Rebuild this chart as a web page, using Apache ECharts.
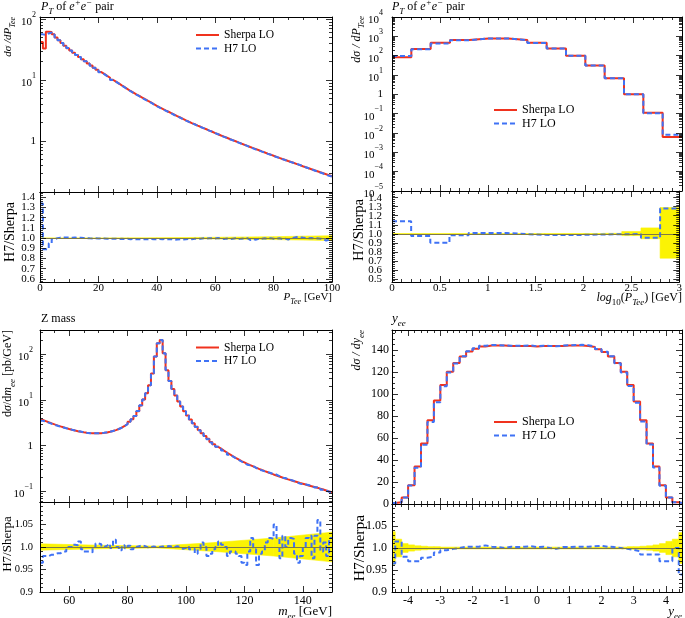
<!DOCTYPE html>
<html><head><meta charset="utf-8">
<script src="https://cdn.jsdelivr.net/npm/echarts@6/dist/echarts.min.js"></script>
<style>html,body{margin:0;padding:0;background:#fff}#c{width:685px;height:618px}</style>
</head><body><div id="c"></div>
<script>
const FONT = "'Liberation Serif','DejaVu Serif',serif";
const RED = '#f0321e', BLUE = '#3f72f5', YEL = '#fbf304', REF = '#7f7a45';

// ---------- P_T of e+e- pair (linear, 1 GeV bins) ----------
const ptEdges = []; for (let i = 0; i <= 100; i++) ptEdges.push(i);
const ptSherpa = [42,33,62,61,56,50,45,40.5,36.5,33.3,
30.5,28.1,25.8,23.8,21.9,20.3,18.7,17.3,15.9,14.7,
13.5,12.6,11.7,10.9,10.1,9.44,8.79,8.18,7.62,7.1,
6.61,6.21,5.83,5.48,5.15,4.84,4.55,4.28,4.02,3.78,
3.55,3.36,3.18,3.02,2.86,2.71,2.56,2.43,2.3,2.18,
2.07,1.97,1.88,1.79,1.71,1.63,1.56,1.48,1.42,1.35,
1.29,1.23,1.18,1.13,1.08,1.035,0.991,0.948,0.908,0.869,
0.832,0.798,0.766,0.735,0.705,0.676,0.649,0.622,0.597,0.573,
0.55,0.528,0.508,0.489,0.47,0.452,0.435,0.418,0.402,0.386,
0.372,0.358,0.344,0.331,0.319,0.307,0.296,0.285,0.274,0.264];
const ptH7 = [56,55,58,60,55.5,50,45,40.5,36.6,33.4,
30.6,28.2,25.8,23.8,21.9,20.3,18.7,17.2,15.9,14.6,
13.4,12.5,11.6,10.8,10.0,9.39,8.73,8.13,7.56,7.04,
6.55,6.15,5.77,5.43,5.09,4.79,4.51,4.24,3.98,3.74,
3.52,3.33,3.15,2.99,2.83,2.67,2.53,2.41,2.27,2.16,
2.06,1.95,1.87,1.78,1.7,1.63,1.55,1.48,1.42,1.35,
1.29,1.225,1.171,1.125,1.069,1.029,0.989,0.939,0.903,0.866,
0.832,0.784,0.758,0.724,0.701,0.671,0.648,0.616,0.597,0.57,
0.548,0.527,0.504,0.487,0.463,0.451,0.437,0.422,0.405,0.388,
0.372,0.357,0.345,0.329,0.318,0.305,0.293,0.278,0.27,0.261];
const ptRatio = [1.34,0.89,0.89,0.95,0.99,1.0,1.005,1.006,1.005,1.006,
1.004,1.005,1.003,1.004,1.002,1.0,0.998,0.997,0.998,0.996,
0.995,0.997,0.994,0.996,0.993,0.995,0.992,0.994,0.991,0.993,
0.99,0.992,0.989,0.991,0.988,0.99,0.989,0.992,0.988,0.99,
0.992,0.989,0.991,0.988,0.99,0.984,0.986,0.99,0.987,0.99,
0.993,0.99,0.994,0.992,0.995,0.998,0.996,0.999,1.0,0.997,
1.002,0.995,0.992,0.996,0.99,0.994,0.998,0.99,0.995,0.997,
1.0,0.982,0.99,0.985,0.995,0.993,0.998,0.99,1.0,0.994,
0.996,0.998,0.992,0.995,0.985,0.998,1.005,1.01,1.008,1.005,
1.0,0.998,1.002,0.995,0.998,0.995,0.99,0.975,0.985,0.99];
const ptBandX = [0,20,40,60,80,100];
const ptBandLo = [0.998,0.998,0.996,0.992,0.986,0.976];
const ptBandHi = [1.002,1.002,1.004,1.008,1.014,1.024];

// ---------- log10(P_T) ----------
const lptEdges = [0,0.2,0.4,0.6,0.8,1.0,1.2,1.4,1.6,1.8,2.0,2.2,2.4,2.6,2.8,3.0];
const lptSherpa = [82,220,470,640,780,780,640,460,235,100,31,6.8,1.0,0.11,0.0063];
const lptH7 = [95,215,420,630,775,775,630,450,232,99,31,6.8,1.0,0.105,0.0081];
const lptRatio = [1.14,0.975,0.9,0.985,1.008,1.008,0.997,0.988,0.987,0.988,0.992,0.995,0.997,0.955,1.28];
const lptBandLo = [0.998,0.998,0.998,0.998,0.998,0.998,0.998,0.998,0.998,0.998,0.997,0.995,0.98,0.945,0.73];
const lptBandHi = [1.002,1.002,1.002,1.002,1.002,1.002,1.002,1.002,1.002,1.002,1.003,1.005,1.025,1.065,1.29];

// ---------- Z mass ----------
const mEdges = []; for (let i = 50; i <= 150; i++) mEdges.push(i);
const mSherpa = [3.65,3.45,3.25,3.08,2.92,2.78,2.65,2.53,2.42,2.32,
2.23,2.15,2.08,2.02,1.97,1.93,1.9,1.88,1.87,1.87,
1.88,1.91,1.95,2.01,2.09,2.19,2.32,2.48,2.7,2.98,
3.33,3.8,4.45,5.7,7.6,10.2,14,21,38,90,
174,206,105,45,26,17.5,12.5,9.3,7.2,5.7,
4.6,3.75,3.1,2.6,2.2,1.88,1.62,1.41,1.2,1.07,
0.95,0.86,0.78,0.71,0.65,0.59,0.54,0.5,0.46,0.43,
0.4,0.375,0.352,0.33,0.31,0.293,0.277,0.262,0.248,0.235,
0.223,0.212,0.202,0.192,0.183,0.175,0.167,0.16,0.153,0.147,
0.141,0.135,0.13,0.125,0.12,0.115,0.11,0.105,0.1,0.095];
const mH7 = [3.52,3.39,3.19,3.03,2.88,2.74,2.62,2.51,2.4,2.32,
2.23,2.16,2.08,2.04,1.96,1.91,1.88,1.86,1.87,1.88,
1.89,1.91,1.96,2.02,2.09,2.22,2.32,2.47,2.71,2.97,
3.34,3.78,4.45,5.71,7.63,10.22,13.99,21.0,38.04,90.0,
174,206.2,105,45.1,26.03,17.48,12.52,9.3,7.17,5.69,
4.61,3.73,3.09,2.56,2.19,1.9,1.62,1.38,1.18,1.06,
0.95,0.87,0.784,0.71,0.637,0.584,0.535,0.492,0.451,0.415,
0.384,0.371,0.359,0.328,0.298,0.289,0.274,0.265,0.253,0.239,
0.234,0.216,0.197,0.197,0.183,0.178,0.17,0.158,0.148,0.144,
0.141,0.138,0.133,0.122,0.123,0.122,0.109,0.106,0.098,0.097];
const mRatio = [0.965,0.98,0.98,0.983,0.983,0.986,0.986,0.99,0.99,1.0,
1.0,1.005,1.004,1.012,0.995,0.99,0.99,0.988,1.0,1.008,
1.006,1.0,1.003,1.007,0.998,1.016,1.0,0.993,1.004,0.997,
1.003,0.995,1.0,1.002,1.004,1.002,0.999,1.0,1.001,1.0,
1.0,1.001,1.0,1.002,1.001,0.999,1.002,1.0,0.996,0.998,
1.002,0.995,0.996,0.985,0.995,1.01,1.0,0.98,0.985,0.995,
1.0,1.012,1.005,1.0,0.98,0.99,0.99,0.985,0.98,0.965,
0.96,0.99,1.02,0.995,0.96,0.985,0.99,1.01,1.02,1.018,
1.05,1.02,0.975,1.025,1.0,1.02,1.018,0.985,0.965,0.98,
1.0,1.02,1.025,0.975,1.025,1.06,0.99,1.01,0.98,1.02];
const mBandX = [50,70,90,110,130,150];
const mBandLo = [0.993,0.996,0.998,0.99,0.98,0.967];
const mBandHi = [1.007,1.004,1.002,1.01,1.02,1.033];

// ---------- y_ee ----------
const yEdges = [-4.5,-4.4,-4.2,-4.0,-3.8,-3.6,-3.4,-3.2,-3.0,-2.8,-2.6,-2.4,-2.2,-2.0,-1.8,-1.6,-1.4,-1.2,-1.0,-0.8,-0.6,-0.4,-0.2,0,0.2,0.4,0.6,0.8,1.0,1.2,1.4,1.6,1.8,2.0,2.2,2.4,2.6,2.8,3.0,3.2,3.4,3.6,3.8,4.0,4.2,4.4,4.5];
const ySherpa = [1.0,1.5,6,17,34,55,76,94,108,120,128,134,138.5,141,143,144,144,144,143.5,143.5,143.5,143.5,143,143.5,143.5,143.5,143.5,144,144,144,143.5,142.5,140.5,138,134,128,120,108,93,76,55,34,17,6,1.5,1.0];
const yH7 = [0.97,1.52,5.9,16.7,33,53.8,74.4,92.4,107,119.4,127.6,134.2,138.7,141.4,143.6,144.4,144.3,144,143.7,143.8,143.8,143.9,143.3,143.8,143.5,143.2,143.8,144.2,144.4,144.5,144.1,143,140.8,138.2,134.1,127.8,119.5,107.1,92,75,54,33.2,16.5,5.82,1.5,0.94];
const yRatio = [0.965,1.015,0.98,0.97,0.97,0.978,0.98,0.99,0.995,0.998,1.0,1.003,1.003,1.003,1.006,1.003,1.002,1.0,1.003,1.002,1.003,1.004,1.002,1.003,1.0,0.998,1.002,1.002,1.003,1.003,1.003,1.004,1.005,1.003,1.002,1.0,0.998,0.996,0.993,0.985,0.985,0.985,0.97,0.97,1.0,0.94];
const yBandLo = [0.963,0.98,0.99,0.993,0.995,0.996,0.997,0.997,0.998,0.998,0.998,0.998,0.998,0.998,0.998,0.998,0.998,0.998,0.998,0.998,0.998,0.998,0.998,0.998,0.998,0.998,0.998,0.998,0.998,0.998,0.998,0.998,0.998,0.998,0.998,0.998,0.998,0.997,0.997,0.996,0.995,0.993,0.99,0.985,0.98,0.965];
const yBandHi = [1.037,1.02,1.01,1.007,1.005,1.004,1.003,1.003,1.002,1.002,1.002,1.002,1.002,1.002,1.002,1.002,1.002,1.002,1.002,1.002,1.002,1.002,1.002,1.002,1.002,1.002,1.002,1.002,1.002,1.002,1.002,1.002,1.002,1.002,1.002,1.002,1.002,1.003,1.003,1.004,1.005,1.007,1.01,1.015,1.02,1.035];

// ---------- helpers ----------
function steps(edges, vals) { const d = vals.map((v, i) => [edges[i], v]); d.push([edges[vals.length], vals[vals.length - 1]]); return d; }
function rects(edges, lo, hi) { return lo.map((l, i) => [edges[i], edges[i + 1], l, hi[i]]); }
function wedge(xs, lo, hi) { const o = []; for (let i = 0; i < xs.length - 1; i++) o.push([xs[i], xs[i + 1], lo[i], hi[i], lo[i + 1], hi[i + 1]]); return o; }
function bandRect(params, api) {
  const a = api.coord([api.value(0), api.value(3)]), b = api.coord([api.value(1), api.value(2)]);
  return { type: 'rect', shape: { x: a[0], y: a[1], width: b[0] - a[0], height: b[1] - a[1] }, style: { fill: YEL, stroke: YEL, lineWidth: 0.6 } };
}
function bandPoly(params, api) {
  const pts = [api.coord([api.value(0), api.value(2)]), api.coord([api.value(0), api.value(3)]), api.coord([api.value(1), api.value(5)]), api.coord([api.value(1), api.value(4)])];
  return { type: 'polygon', shape: { points: pts }, style: { fill: YEL, stroke: YEL, lineWidth: 0.6 } };
}
const mult = (v, s) => Math.abs(v / s - Math.round(v / s)) < 1e-6;
const logFmt = v => { const l = Math.log10(v), e = Math.round(l); if (Math.abs(l - e) > 1e-6) return ''; if (e === 0) return '1'; return '{b|10}{s|' + (e < 0 ? '\u2212' + (-e) : e) + '}'; };
const logRich = fs => ({ b: { fontSize: fs, fontFamily: FONT, lineHeight: fs + 6, verticalAlign: 'bottom' }, s: { fontSize: Math.round(fs * 0.72), fontFamily: FONT, lineHeight: Math.round(fs * 0.6), verticalAlign: 'top' } });
const r01 = v => mult(v, 0.1) ? v.toFixed(1) : '';
const r005 = v => (mult(v, 0.05) && v < 1.09) ? (mult(v, 0.1) ? v.toFixed(1) : v.toFixed(2)) : '';

function ax(gi, pos, d, showLabel) {
  return {
    type: d.type || 'value', gridIndex: gi, position: pos, min: d.min, max: d.max, splitNumber: d.split,
    axisLine: { show: true, onZero: false, lineStyle: { color: '#000', width: 1 } },
    axisTick: { show: true, inside: true, length: 6, lineStyle: { color: '#000', width: 0.8 } },
    minorTick: { show: true, splitNumber: d.minor, length: 3, lineStyle: { color: '#000', width: 0.8 } },
    splitLine: { show: false }, minorSplitLine: { show: false },
    axisLabel: showLabel ? { show: true, formatter: d.fmt, fontFamily: FONT, fontSize: d.fs, color: '#000', margin: d.margin, rich: d.rich, hideOverlap: false } : { show: false },
    axisPointer: { show: false }, silent: true, z: 10
  };
}

const grids = [
  { left: 40, top: 17, width: 292, height: 175 },
  { left: 40, top: 192, width: 292, height: 90 },
  { left: 392, top: 17, width: 290, height: 174 },
  { left: 392, top: 191, width: 290, height: 91 },
  { left: 40, top: 330, width: 292, height: 172 },
  { left: 40, top: 502, width: 292, height: 90 },
  { left: 392, top: 330, width: 290, height: 174 },
  { left: 392, top: 504, width: 290, height: 88 }
];

const xd = [
  { min: 0, max: 100, split: 5, minor: 4, fmt: v => mult(v, 20) ? String(v) : '', fs: 11, margin: 1 },
  { min: 0, max: 3, split: 6, minor: 5, fmt: v => mult(v, 0.5) ? String(+v.toFixed(1)) : '', fs: 11, margin: 1 },
  { min: 50, max: 150, split: 5, minor: 4, fmt: v => mult(v, 20) ? String(v) : '', fs: 12, margin: 3 },
  { min: -4.5, max: 4.5, split: 9, minor: 5, fmt: v => (mult(v, 1) && Math.abs(v) < 4.4) ? String(Math.round(v)) : '', fs: 12, margin: 3 }
];
const yMain = [
  { type: 'log', min: 0.1459, max: 107.9, split: 3, minor: 9, fmt: logFmt, rich: logRich(11), fs: 11, margin: 4 },
  { type: 'log', min: 1e-5, max: 1e4, split: 10, minor: 9, fmt: logFmt, rich: logRich(11), fs: 11, margin: 9 },
  { type: 'log', min: 0.0586, max: 340, split: 4, minor: 9, fmt: logFmt, rich: logRich(11), fs: 11, margin: 7 },
  { min: 0, max: 158, split: 8, minor: 4, fmt: v => mult(v, 20) ? String(Math.round(v)) : '', fs: 12, margin: 3 }
];
const yRat = [
  { min: 0.57, max: 1.452, split: 9, minor: 5, fmt: r01, fs: 11, margin: 5 },
  { min: 0.466, max: 1.474, split: 10, minor: 5, fmt: r01, fs: 11, margin: 10 },
  { min: 0.9, max: 1.1, split: 4, minor: 5, fmt: r005, fs: 10.5, margin: 7 },
  { min: 0.9, max: 1.1, split: 4, minor: 5, fmt: r005, fs: 12, margin: 5 }
];

const xAxis = [], yAxis = [];
for (let p = 0; p < 4; p++) {
  const gm = 2 * p, gr = 2 * p + 1;
  xAxis.push(ax(gm, 'bottom', xd[p], false), ax(gm, 'top', xd[p], false));
  yAxis.push(ax(gm, 'left', yMain[p], true), ax(gm, 'right', yMain[p], false));
  xAxis.push(ax(gr, 'bottom', xd[p], true), ax(gr, 'top', xd[p], false));
  yAxis.push(ax(gr, 'left', yRat[p], true), ax(gr, 'right', yRat[p], false));
}

function stepLine(name, idx, data, color, dashed) {
  return { name, type: 'line', step: 'end', xAxisIndex: idx, yAxisIndex: idx, data, symbol: 'none', showSymbol: false,
    lineStyle: { color, width: 2, type: dashed ? [5, 3] : 'solid' }, itemStyle: { color }, silent: true, emphasis: { disabled: true }, clip: true };
}
function band(idx, data, poly) {
  return { type: 'custom', xAxisIndex: idx, yAxisIndex: idx, data, renderItem: poly ? bandPoly : bandRect, clip: true, silent: true,
    encode: poly ? { x: [0, 1], y: [2, 3, 4, 5] } : { x: [0, 1], y: [2, 3] },
    markLine: { silent: true, symbol: 'none', label: { show: false }, lineStyle: { color: REF, width: 1, type: 'solid' }, data: [{ yAxis: 1 }] } };
}

const series = [
  stepLine('Sherpa LO', 0, steps(ptEdges, ptSherpa), RED, false),
  stepLine('H7 LO', 0, steps(ptEdges, ptH7), BLUE, true),
  band(2, wedge(ptBandX, ptBandLo, ptBandHi), true),
  stepLine('H7 ratio pt', 2, steps(ptEdges, ptRatio), BLUE, true),

  stepLine('Sherpa LO', 4, steps(lptEdges, lptSherpa), RED, false),
  stepLine('H7 LO', 4, steps(lptEdges, lptH7), BLUE, true),
  band(6, rects(lptEdges, lptBandLo, lptBandHi), false),
  stepLine('H7 ratio lpt', 6, steps(lptEdges, lptRatio), BLUE, true),

  stepLine('Sherpa LO', 8, steps(mEdges, mSherpa), RED, false),
  stepLine('H7 LO', 8, steps(mEdges, mH7), BLUE, true),
  band(10, wedge(mBandX, mBandLo, mBandHi), true),
  stepLine('H7 ratio m', 10, steps(mEdges, mRatio), BLUE, true),

  stepLine('Sherpa LO', 12, steps(yEdges, ySherpa), RED, false),
  stepLine('H7 LO', 12, steps(yEdges, yH7), BLUE, true),
  band(14, rects(yEdges, yBandLo, yBandHi), false),
  stepLine('H7 ratio y', 14, steps(yEdges, yRatio), BLUE, true)
];

const leg = (left, top, fs) => ({ left, top, padding: 0, orient: 'vertical', itemWidth: 23, itemHeight: 12, itemGap: 0.5, selectedMode: false,
  itemStyle: { opacity: 0 },
  data: ['Sherpa LO', 'H7 LO'], textStyle: { fontFamily: FONT, fontSize: fs, color: '#000', lineHeight: 13 } });

const richT = fs => {
  const s = Math.round(fs * 0.72);
  return {
    n: { fontSize: fs, fontFamily: FONT, lineHeight: fs + 6 },
    i: { fontSize: fs, fontFamily: FONT, fontStyle: 'italic', lineHeight: fs + 6 },
    sb: { fontSize: s, fontFamily: FONT, fontStyle: 'italic', lineHeight: s, verticalAlign: 'bottom' },
    sbn: { fontSize: s, fontFamily: FONT, lineHeight: s, verticalAlign: 'bottom' },
    sp: { fontSize: s, fontFamily: FONT, fontStyle: 'italic', lineHeight: Math.round(fs * 0.6), verticalAlign: 'top' }
  };
};
function gtext(x, y, text, fs, align, rot) {
  const el = { type: 'text', x, y, silent: true, z: 20,
    style: { text, fill: '#000', fontFamily: FONT, fontSize: fs, align: align || 'left', verticalAlign: 'middle', rich: richT(fs) } };
  if (rot) el.rotation = Math.PI / 2;
  return el;
}
const titlePt = '{i|P}{sb|T}{n| of }{i|e}{sp|+}{i|e}{sp|\u2212}{n| pair}';
const graphic = [
  gtext(41, 7, titlePt, 12),
  gtext(392, 7, titlePt, 12),
  gtext(41, 318.5, '{n|Z mass}', 12),
  gtext(392, 319, '{i|y}{sb|ee}', 13),
  gtext(8, 17, '{i|d\u03c3 /dP}{sb|Tee}', 11, 'right', true),
  gtext(357, 16, '{i|d\u03c3 / dP}{sb|Tee}', 12, 'right', true),
  gtext(8, 330, '{n|d}{i|\u03c3}{n|/d}{i|m}{sb|ee}{n| [pb/GeV]}', 12, 'right', true),
  gtext(357, 330, '{i|d\u03c3 / dy}{sb|ee}', 12, 'right', true),
  gtext(10, 232, '{n|H7/Sherpa}', 14, 'center', true),
  gtext(359, 230, '{n|H7/Sherpa}', 14.5, 'center', true),
  gtext(8, 544, '{n|H7/Sherpa}', 13, 'center', true),
  gtext(360, 548, '{n|H7/Sherpa}', 15.5, 'center', true),
  gtext(332, 297.5, '{i|P}{sb|Tee}{n| [GeV]}', 11, 'right'),
  gtext(682, 298, '{i|log}{sbn|10}{n|(}{i|P}{sb|Tee}{n|) [GeV]}', 12, 'right'),
  gtext(332, 612, '{i|m}{sb|ee}{n| [GeV]}', 13, 'right'),
  gtext(682, 612, '{i|y}{sb|ee}', 13, 'right')
];

const chart = echarts.init(document.getElementById('c'), null, { renderer: 'canvas' });
chart.setOption({
  animation: false,
  backgroundColor: '#fff',
  textStyle: { fontFamily: FONT },
  grid: grids,
  xAxis, yAxis, series,
  legend: [leg(195, 28.5, 11.5), leg(493, 103.5, 12), leg(195, 341, 11.5), leg(493, 415.5, 12)],
  graphic
});
</script></body></html>
